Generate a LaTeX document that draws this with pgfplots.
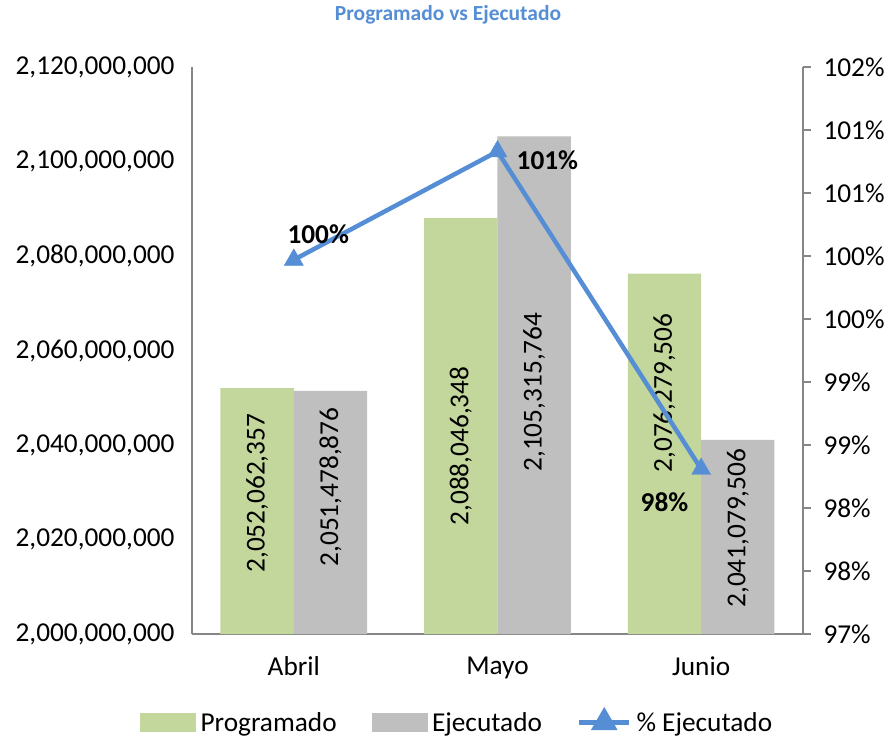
\documentclass[border=0pt]{standalone}
\usepackage{pgfplots}
\pgfplotsset{compat=1.18}
\usepackage{fontspec}
\setmainfont{Carlito}
\definecolor{progGreen}{HTML}{C3D69B}
\definecolor{ejecGray}{HTML}{BFBFBF}
\definecolor{lineBlue}{HTML}{558ED5}
\definecolor{axisGray}{HTML}{868686}
\newcommand{\chartfont}{\fontsize{27.3}{30}\selectfont}

\begin{document}
\begin{tikzpicture}
% left axis: amounts
\begin{axis}[
    scale only axis,
    width=611pt, height=567pt,
    xmin=-0.5, xmax=2.5,
    ymin=2000000000, ymax=2120000000,
    scaled y ticks=false,
    axis x line*=bottom, axis y line*=left,
    axis line style={axisGray, line width=1.5pt},
    xtick={0,1,2},
    xticklabels={Abril,Mayo,Junio},
    ytick={2000000000,2020000000,2040000000,2060000000,2080000000,2100000000,2120000000},
    yticklabels={{2,000,000,000},{2,020,000,000},{2,040,000,000},{2,060,000,000},{2,080,000,000},{2,100,000,000},{2,120,000,000}},
    major tick length=0pt,
    tick label style={font=\chartfont, black},
    yticklabel style={xshift=-14pt},
    xticklabel style={yshift=-19pt},
    title={Programado vs Ejecutado},
    title style={at={(0.419,1.082)}, anchor=center, font=\bfseries\fontsize{21.5}{24}\selectfont, text=lineBlue},
    ybar, bar width=0.36,
]
\addplot[fill=progGreen, draw=none, bar shift=-0.18] coordinates {
    (0,2052062357) (1,2088046348) (2,2076279506)
};
\addplot[fill=ejecGray, draw=none, bar shift=0.18] coordinates {
    (0,2051478876) (1,2105315764) (2,2041079506)
};
\node[rotate=90, font=\chartfont] at (axis cs:-0.18,2029800000) {2,052,062,357};
\node[rotate=90, font=\chartfont] at (axis cs:0.18,2031100000) {2,051,478,876};
\node[rotate=90, font=\chartfont] at (axis cs:0.82,2039800000) {2,088,046,348};
\node[rotate=90, font=\chartfont] at (axis cs:1.18,2051200000) {2,105,315,764};
\node[rotate=90, font=\chartfont] at (axis cs:1.82,2051000000) {2,076,279,506};
\node[rotate=90, font=\chartfont] at (axis cs:2.18,2022400000) {2,041,079,506};
\coordinate (bl) at (rel axis cs:-0.3142,-0.1869);
\coordinate (tr) at (rel axis cs:1.1473,1.1182);
\end{axis}

% right axis: percentage
\begin{axis}[
    scale only axis,
    width=611pt, height=567pt,
    xmin=-0.5, xmax=2.5,
    ymin=97, ymax=101.5,
    axis x line=none, axis y line*=right,
    axis line style={axisGray, line width=1.5pt},
    ytick={97,97.5,98,98.5,99,99.5,100,100.5,101,101.5},
    yticklabels={97\%,98\%,98\%,99\%,99\%,100\%,100\%,101\%,101\%,102\%},
    tick align=outside,
    major tick length=8pt,
    ytick style={axisGray, line width=1.5pt},
    tick label style={font=\chartfont, black},
    yticklabel style={xshift=9pt},
    legend style={at={(0.434,-0.155)}, anchor=center, draw=none, fill=none,
        legend columns=3, font=\chartfont,
        /tikz/every odd column/.append style={column sep=3pt},
        /tikz/every even column/.append style={column sep=33pt},
        nodes={inner sep=2pt}},
]
\addlegendimage{legend image code/.code={\fill[progGreen] (0pt,-9pt) rectangle (55pt,9pt);}}
\addlegendentry{Programado}
\addlegendimage{legend image code/.code={\fill[ejecGray] (0pt,-9pt) rectangle (55pt,9pt);}}
\addlegendentry{Ejecutado}
\addplot[color=lineBlue, line width=4.5pt, mark=triangle*, mark size=11pt,
    mark options={solid, line width=0.4pt, fill=lineBlue},
    legend image code/.code={
        \draw[lineBlue, line width=4.5pt] (0pt,0pt) -- (50pt,0pt);
        \fill[lineBlue] (25pt,0pt) ++(90:11pt) -- ++(240:19pt) -- ++(0:19pt) -- cycle;
    }] coordinates {
    (0,99.97) (1,100.83) (2,98.31)
};
\addlegendentry{\% Ejecutado}
\node[font=\bfseries\chartfont] at (axis cs:0.12,100.17) {100\%};
\node[font=\bfseries\chartfont] at (axis cs:1.245,100.76) {101\%};
\node[font=\bfseries\chartfont] at (axis cs:1.82,98.05) {98\%};
\end{axis}
\path (bl) rectangle (tr);
\end{tikzpicture}
\end{document}
